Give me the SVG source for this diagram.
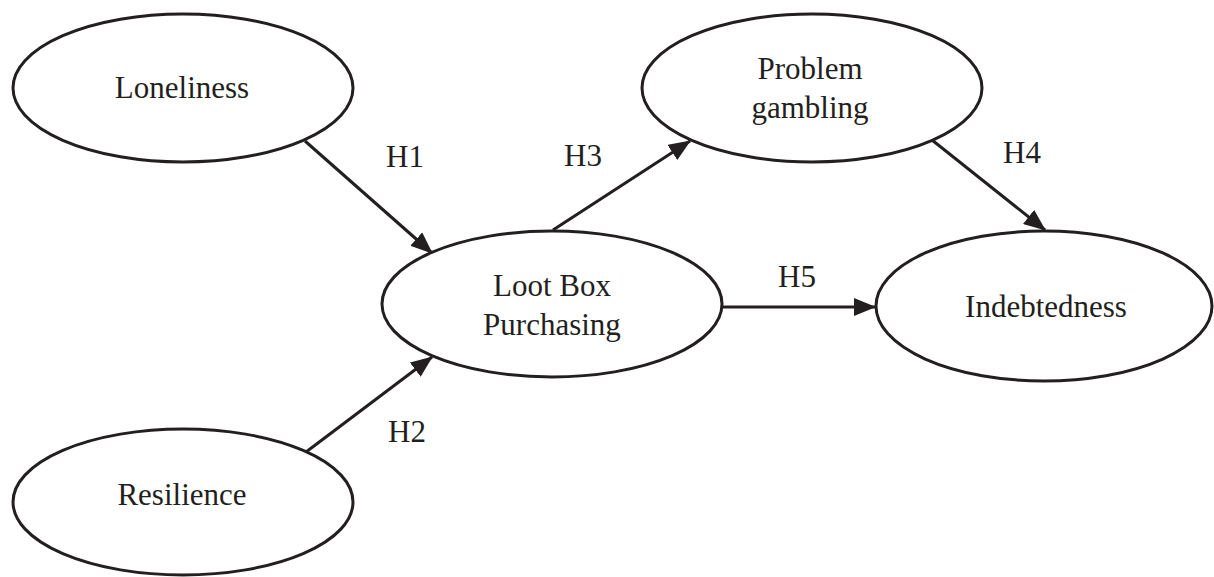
<svg xmlns="http://www.w3.org/2000/svg" width="1214" height="577" viewBox="0 0 1214 577">
<style>
.node ellipse{fill:#fff;stroke:#231f20;stroke-width:3}
.lbl{font-family:"Liberation Serif","Times New Roman",serif;font-size:31px;fill:#231f20;text-anchor:middle}
.edge{stroke:#231f20;stroke-width:3;fill:none;marker-end:url(#arr)}
</style>
<defs>
<marker id="arr" markerUnits="userSpaceOnUse" markerWidth="22" markerHeight="18" refX="21" refY="9" orient="auto">
<path d="M0,0 L22,9 L0,18 Z" fill="#231f20"/>
</marker>
</defs>
<rect width="1214" height="577" fill="#fff"/>
<g id="connectors">
<line class="edge" x1="305" y1="141" x2="432" y2="253"/>
<line class="edge" x1="306" y1="452" x2="432" y2="357"/>
<line class="edge" x1="553" y1="230" x2="690" y2="141"/>
<line class="edge" x1="932" y1="140" x2="1045" y2="230"/>
<line class="edge" x1="723" y1="307" x2="875" y2="307"/>
<text class="lbl" x="405" y="167">H1</text>
<text class="lbl" x="407" y="442">H2</text>
<text class="lbl" x="583" y="166">H3</text>
<text class="lbl" x="1022" y="163">H4</text>
<text class="lbl" x="797" y="287">H5</text>
</g>
<g id="loneliness" class="node">
<ellipse cx="183" cy="88" rx="170" ry="74"/>
<text class="lbl" x="182" y="98">Loneliness</text>
</g>
<g id="resilience" class="node">
<ellipse cx="183" cy="502" rx="170" ry="73"/>
<text class="lbl" x="182" y="505">Resilience</text>
</g>
<g id="lootbox" class="node">
<ellipse cx="552" cy="304" rx="170" ry="73"/>
<text class="lbl" x="552" y="296">Loot Box</text>
<text class="lbl" x="552" y="335">Purchasing</text>
</g>
<g id="problemgambling" class="node">
<ellipse cx="812" cy="88" rx="170" ry="74"/>
<text class="lbl" x="810" y="79">Problem</text>
<text class="lbl" x="810" y="118">gambling</text>
</g>
<g id="indebtedness" class="node">
<ellipse cx="1044" cy="306" rx="168" ry="75"/>
<text class="lbl" x="1046" y="317">Indebtedness</text>
</g>
</svg>
